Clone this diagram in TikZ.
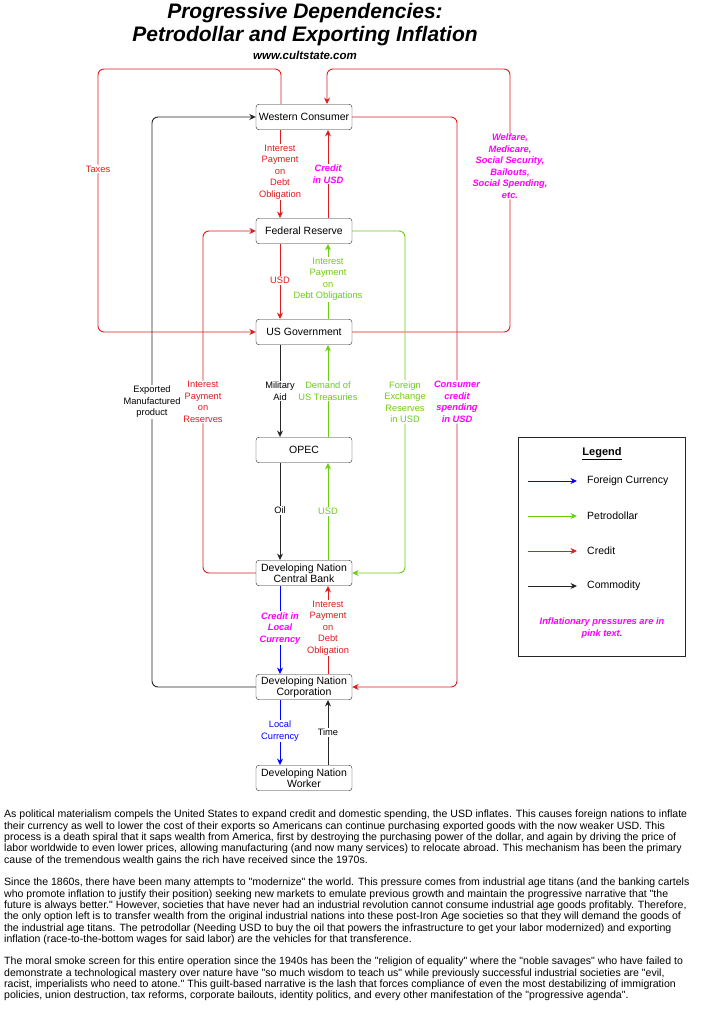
\documentclass[tikz,border=0pt]{standalone}
\usepackage{fontspec}
\setmainfont{Liberation Sans}
\newfontfamily\bodyfont{Liberation Sans}
\usetikzlibrary{arrows.meta}
\definecolor{credred}{RGB}{221,30,30}
\definecolor{petgreen}{RGB}{110,204,20}
\definecolor{forblue}{RGB}{0,0,255}
\definecolor{inflpink}{RGB}{255,0,255}
\tikzset{
	box/.style={draw=black!85, rounded corners=3pt, minimum width=96pt, minimum height=25.5pt, inner sep=1pt, align=center, fill=white, font=\fontsize{10.5}{11}\selectfont},
	flow/.style={-{Stealth[length=6.5pt,width=6pt]}, line width=0.9pt},
	credit/.style={flow, draw=credred},
	petro/.style={flow, draw=petgreen},
	foreign/.style={flow, draw=forblue},
	commod/.style={flow, draw=black!85},
	lbl/.style={fill=white, inner sep=1pt, align=center, font=\fontsize{9.3}{11.5}\selectfont},
	pinklbl/.style={lbl, text=inflpink, font=\fontsize{9.3}{11.5}\selectfont\bfseries\itshape},
	para/.style={anchor=north west, inner sep=0pt, align=left, font=\bodyfont\fontsize{10.55}{11.3}\selectfont},
}

\begin{document}
\begin{tikzpicture}[x=1pt, y=-1pt]
		%%%%% START %%%%%
		
		\fill[white] (0, 0) rectangle (704, 1024);
		\useasboundingbox (0, 0) rectangle (704, 1024);
		
		\node[align=center, font=\fontsize{21}{23}\selectfont\bfseries\itshape] (title) at (305, 25) {Progressive Dependencies:\\Petrodollar and Exporting Inflation};
		\node[font=\fontsize{11.5}{12}\selectfont\bfseries\itshape] (url) at (305, 55) {www.cultstate.com};
		
		\node[box] (wc) at (304, 117) {Western Consumer};
		\node[box] (fr) at (304, 231) {Federal Reserve};
		\node[box] (usg) at (304, 332) {US Government};
		\node[box] (opec) at (304, 450) {OPEC};
		\node[box] (dncb) at (304, 573) {Developing Nation\\Central Bank};
		\node[box] (dnc) at (304, 687) {Developing Nation\\Corporation};
		\node[box] (dnw) at (304, 778) {Developing Nation\\Worker};
		
		\draw[credit] ([xshift=-24pt]wc.south) -- node[lbl, text=credred, pos=0.48] {Interest\\Payment\\on\\Debt\\Obligation} ([xshift=-24pt]fr.north);
		\draw[credit] ([xshift=24pt]fr.north) -- node[pinklbl, pos=0.5] {Credit\\in USD} ([xshift=24pt]wc.south);
		\draw[credit] ([xshift=-24pt]fr.south) -- node[lbl, text=credred, pos=0.49] {USD} ([xshift=-24pt]usg.north);
		\draw[petro] ([xshift=24pt]usg.north) -- node[lbl, text=petgreen, pos=0.53] {Interest\\Payment\\on\\Debt Obligations} ([xshift=24pt]fr.south);
		\draw[commod] ([xshift=-24pt]usg.south) -- node[lbl, pos=0.5] {Military\\Aid} ([xshift=-24pt]opec.north);
		\draw[petro] ([xshift=24pt]opec.north) -- node[lbl, text=petgreen, pos=0.5] {Demand of\\US Treasuries} ([xshift=24pt]usg.south);
		\draw[commod] ([xshift=-24pt]opec.south) -- node[lbl, pos=0.49] {Oil} ([xshift=-24pt]dncb.north);
		\draw[petro] ([xshift=24pt]dncb.north) -- node[lbl, text=petgreen, pos=0.5] {USD} ([xshift=24pt]opec.south);
		\draw[foreign] ([xshift=-24pt]dncb.south) -- node[pinklbl, pos=0.48] {Credit in\\Local\\Currency} ([xshift=-24pt]dnc.north);
		\draw[credit] ([xshift=24pt]dnc.north) -- node[lbl, text=credred, pos=0.52] {Interest\\Payment\\on\\Debt\\Obligation} ([xshift=24pt]dncb.south);
		\draw[foreign] ([xshift=-24pt]dnc.south) -- node[lbl, text=forblue, pos=0.48] {Local\\Currency} ([xshift=-24pt]dnw.north);
		\draw[commod] ([xshift=24pt]dnw.north) -- node[lbl, pos=0.5] {Time} ([xshift=24pt]dnc.south);
		
		\draw[credit, rounded corners=6pt] ([xshift=-23pt]wc.north) -- (281, 69) -- (98, 69) -- node[lbl, text=credred, pos=0.38] {Taxes} (98, 332) -- (usg.west);
		\draw[credit, rounded corners=6pt] (usg.east) -- (510, 332) -- node[pinklbl, pos=0.63] {Welfare,\\Medicare,\\Social Security,\\Bailouts,\\Social Spending,\\etc.} (510, 69) -- (327, 69) -- ([xshift=23pt]wc.north);
		\draw[credit, rounded corners=6pt] (wc.east) -- (457, 117) -- node[pinklbl, pos=0.5] {Consumer\\credit\\spending\\in USD} (457, 687) -- (dnc.east);
		\draw[commod, rounded corners=6pt] (dnc.west) -- (152, 687) -- node[lbl, pos=0.5] {Exported\\Manufactured\\product} (152, 117) -- (wc.west);
		\draw[credit, rounded corners=6pt] (dncb.west) -- (203, 573) -- node[lbl, text=credred, pos=0.5] {Interest\\Payment\\on\\Reserves} (203, 231) -- (fr.west);
		\draw[petro, rounded corners=6pt] (fr.east) -- (405, 231) -- node[lbl, text=petgreen, pos=0.5] {Foreign\\Exchange\\Reserves\\in USD} (405, 573) -- (dncb.east);
		
		\draw[line width=0.9pt, draw=black!85] (518, 437) rectangle (685, 656);
		\node[font=\fontsize{11}{12}\selectfont\bfseries] (legtitle) at (602, 454) {\underline{Legend}};
		\node[anchor=west, inner sep=0pt, font=\fontsize{10.5}{11}\selectfont] (legfc) at (587, 481) {Foreign Currency};
		\node[anchor=west, inner sep=0pt, font=\fontsize{10.5}{11}\selectfont] (legpd) at (587, 516) {Petrodollar};
		\node[anchor=west, inner sep=0pt, font=\fontsize{10.5}{11}\selectfont] (legcr) at (587, 551) {Credit};
		\node[anchor=west, inner sep=0pt, font=\fontsize{10.5}{11}\selectfont] (legcm) at (587, 586) {Commodity};
		\draw[foreign] (528, 481) -- ([xshift=-10pt]legfc.west);
		\draw[petro] (528, 516) -- ([xshift=-10pt]legpd.west);
		\draw[credit] (528, 551) -- ([xshift=-10pt]legcr.west);
		\draw[commod] (528, 586) -- ([xshift=-10pt]legcm.west);
		\node[pinklbl, fill=none] (legnote) at (602, 628) {Inflationary pressures are in\\pink text.};
		
		\node[para] (parone) at (4, 810) {As political materialism compels the United States to expand credit and domestic spending, the USD inflates. This causes foreign nations to inflate\\
their currency as well to lower the cost of their exports so Americans can continue purchasing exported goods with the now weaker USD. This\\
process is a death spiral that it saps wealth from America, first by destroying the purchasing power of the dollar, and again by driving the price of\\
labor worldwide to even lower prices, allowing manufacturing (and now many services) to relocate abroad. This mechanism has been the primary\\
cause of the tremendous wealth gains the rich have received since the 1970s.};
		\node[para] (partwo) at (4, 878) {Since the 1860s, there have been many attempts to "modernize" the world. This pressure comes from industrial age titans (and the banking cartels\\
who promote inflation to justify their position) seeking new markets to emulate previous growth and maintain the progressive narrative that "the\\
future is always better." However, societies that have never had an industrial revolution cannot consume industrial age goods profitably. Therefore,\\
the only option left is to transfer wealth from the original industrial nations into these post-Iron Age societies so that they will demand the goods of\\
the industrial age titans. The petrodollar (Needing USD to buy the oil that powers the infrastructure to get your labor modernized) and exporting\\
inflation (race-to-the-bottom wages for said labor) are the vehicles for that transference.};
		\node[para] (parthree) at (4, 957) {The moral smoke screen for this entire operation since the 1940s has been the "religion of equality" where the "noble savages" who have failed to\\
demonstrate a technological mastery over nature have "so much wisdom to teach us" while previously successful industrial societies are "evil,\\
racist, imperialists who need to atone." This guilt-based narrative is the lash that forces compliance of even the most destabilizing of immigration\\
policies, union destruction, tax reforms, corporate bailouts, identity politics, and every other manifestation of the "progressive agenda".};
		
		%%%%% END %%%%%
	\end{tikzpicture}
\end{document}
